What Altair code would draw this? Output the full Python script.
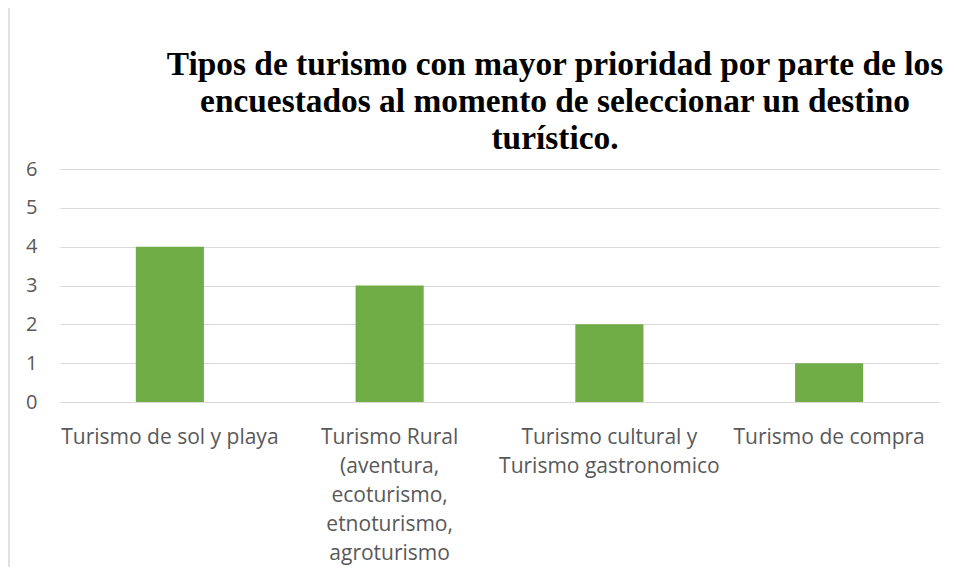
import altair as alt
import pandas as pd

categories = [
    "Turismo de sol y playa",
    "Turismo Rural\n(aventura,\necoturismo,\netnoturismo,\nagroturismo",
    "Turismo cultural y\nTurismo gastronomico",
    "Turismo de compra",
]
values = [4, 3, 2, 1]
title_lines = [
    "Tipos de turismo con mayor prioridad por parte de los",
    "encuestados al momento de seleccionar un destino",
    "turístico.",
]

df = pd.DataFrame({"cat": categories, "val": values})

bars = alt.Chart(df).mark_bar(color="#70AD47").encode(
    x=alt.X(
        "cat:N",
        sort=None,
        title=None,
        scale=alt.Scale(paddingInner=0.69, paddingOuter=0.345),
        axis=alt.Axis(
            labelAngle=0,
            labelExpr="split(datum.label, '\\n')",
            labelFont="Open Sans",
            labelFontSize=21,
            labelColor="#595959",
            labelLineHeight=29,
            labelPadding=24,
            labelLimit=0,
            ticks=False,
            domainColor="#D9D9D9",
            domainWidth=1,
            labelBaseline="top",
        ),
    ),
    y=alt.Y(
        "val:Q",
        title=None,
        scale=alt.Scale(domain=[0, 6]),
        axis=alt.Axis(
            values=[0, 1, 2, 3, 4, 5, 6],
            ticks=False,
            domain=False,
            labelFont="Open Sans",
            labelFontSize=20,
            labelColor="#595959",
            labelPadding=23,
            gridColor="#D9D9D9",
            gridWidth=1,
        ),
    ),
)

frame = alt.Chart(pd.DataFrame({"a": [0]})).mark_rule(
    color="#D9D9D9", strokeWidth=1.5
).encode(x=alt.value(-51), y=alt.value(-162), y2=alt.value(408))

title = alt.Chart(pd.DataFrame({"t": ["\n".join(title_lines)]})).mark_text(
    font="Liberation Serif",
    fontSize=33.4,
    fontWeight="bold",
    color="#000000",
    align="center",
    baseline="alphabetic",
    lineBreak="\n",
    lineHeight=37,
).encode(x=alt.value(495), y=alt.value(-94), text="t:N")

chart = alt.layer(bars, frame, title).properties(
    width=879,
    height=233,
    autosize=alt.AutoSizeParams(type="none"),
    padding={"left": 52, "top": 161, "right": 7, "bottom": 165},
).configure_view(stroke=None)

chart.save("out.html", embed_options={"renderer": "svg", "actions": False})
